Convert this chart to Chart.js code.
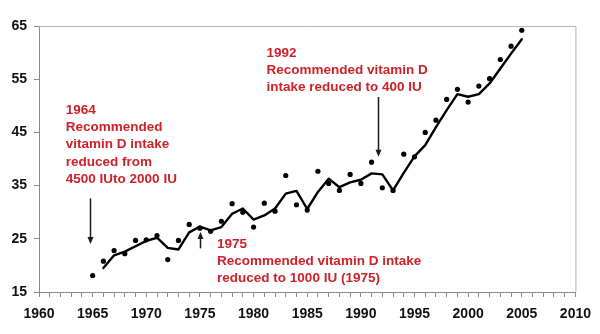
<!DOCTYPE html>
<html>
<head>
<meta charset="utf-8">
<script src="https://cdn.jsdelivr.net/npm/chart.js@4.4.1/dist/chart.umd.min.js"></script>
<style>
  body { margin: 0; background: #fff; }
  #wrap { width: 600px; height: 334px; }
</style>
</head>
<body>
<div id="wrap"><canvas id="vitDChart" width="600" height="334"></canvas></div>
<script>
// yearly observations
const years = [1965, 1966, 1967, 1968, 1969, 1970, 1971, 1972, 1973, 1974,
  1975, 1976, 1977, 1978, 1979, 1980, 1981, 1982, 1983, 1984,
  1985, 1986, 1987, 1988, 1989, 1990, 1991, 1992, 1993, 1994,
  1995, 1996, 1997, 1998, 1999, 2000, 2001, 2002, 2003, 2004, 2005];
const observed = [18.1, 20.8, 22.8, 22.2, 24.7, 24.8, 25.6, 21.1, 24.7, 27.7,
  27.0, 26.4, 28.3, 31.6, 30.0, 27.2, 31.7, 30.2, 36.9, 31.4,
  30.4, 37.7, 35.4, 34.1, 37.1, 35.4, 39.4, 34.6, 34.1, 40.9,
  40.4, 45.0, 47.3, 51.2, 53.1, 50.7, 53.7, 55.1, 58.7, 61.2, 64.2];

// smoothed trend, starts one year later
const trendYears = years.slice(1);
const trend = [19.5, 21.9, 22.6, 23.6, 24.6, 25.2, 23.3, 23.0, 26.2,
  27.3, 26.6, 27.2, 29.7, 30.7, 28.6, 29.4, 30.7, 33.5, 34.0,
  30.6, 33.8, 36.3, 34.7, 35.6, 36.1, 37.3, 37.1, 34.1, 37.4,
  40.5, 42.6, 46.0, 49.2, 52.2, 51.7, 52.2, 54.2, 57.0, 59.8, 62.5];

const xTicks = [1960, 1965, 1970, 1975, 1980, 1985, 1990, 1995, 2000, 2005, 2010];
const yTicks = [15, 25, 35, 45, 55, 65];

// notes: text block anchored at (year, value) of first line
const notes = [
  { x: 1962.5, y: 49.2, lines: ['1964', 'Recommended', 'vitamin D intake', 'reduced from', '4500 IUto 2000 IU'] },
  { x: 1976.6, y: 24.0, lines: ['1975', 'Recommended vitamin D intake', 'reduced to 1000 IU (1975)'] },
  { x: 1981.2, y: 59.9, lines: ['1992', 'Recommended vitamin D', 'intake reduced to 400 IU'] }
];
// arrows: tail value -> head value at a given year
const arrows = [
  { x: 1964.74, from: 32.6, to: 24.0 },
  { x: 1975.0, from: 23.2, to: 26.3 },
  { x: 1991.63, from: 51.65, to: 40.4 }
];

const FONT = "'Liberation Sans', Arial, sans-serif";

const frame = {
  id: 'frame',
  afterDraw(chart) {
    const { ctx, chartArea: a } = chart;
    ctx.save();
    ctx.strokeStyle = '#b4b4b4';
    ctx.lineWidth = 1;
    ctx.beginPath();
    ctx.moveTo(a.left, a.top + 0.5);
    ctx.lineTo(a.right + 0.5, a.top + 0.5);
    ctx.lineTo(a.right + 0.5, a.bottom);
    ctx.stroke();
    ctx.restore();
  }
};

const notesPlugin = {
  id: 'notes',
  afterDraw(chart) {
    const { ctx } = chart;
    const xs = chart.scales.x, ys = chart.scales.y;
    ctx.save();
    ctx.fillStyle = '#cc2229';
    ctx.font = 'bold 13.5px ' + FONT;
    ctx.textAlign = 'left';
    ctx.textBaseline = 'middle';
    notes.forEach(n => {
      const px = xs.getPixelForValue(n.x);
      const py = ys.getPixelForValue(n.y);
      n.lines.forEach((t, i) => ctx.fillText(t, px, py + i * 17.3));
    });

    ctx.strokeStyle = '#1a1a1a';
    ctx.fillStyle = '#1a1a1a';
    ctx.lineWidth = 1.5;
    arrows.forEach(ar => {
      const px = Math.round(xs.getPixelForValue(ar.x)) + 0.5;
      const y0 = ys.getPixelForValue(ar.from);
      const y1 = ys.getPixelForValue(ar.to);
      const dir = y1 > y0 ? 1 : -1;
      ctx.beginPath();
      ctx.moveTo(px, y0);
      ctx.lineTo(px, y1 - dir * 5);
      ctx.stroke();
      ctx.beginPath();
      ctx.moveTo(px, y1);
      ctx.lineTo(px - 3, y1 - dir * 7);
      ctx.lineTo(px + 3, y1 - dir * 7);
      ctx.closePath();
      ctx.fill();
    });
    ctx.restore();
  }
};

const ctx = document.getElementById('vitDChart').getContext('2d');
new Chart(ctx, {
  type: 'scatter',
  data: {
    datasets: [{
      label: 'trend',
      data: trendYears.map((y, i) => ({ x: y, y: trend[i] })),
      showLine: true,
      borderColor: '#000',
      borderWidth: 2.4,
      borderJoinStyle: 'round',
      borderCapStyle: 'round',
      pointRadius: 0,
      tension: 0,
      order: 2
    }, {
      label: 'observed',
      data: years.map((y, i) => ({ x: y, y: observed[i] })),
      pointRadius: 2.6,
      pointBackgroundColor: '#000',
      pointBorderWidth: 0,
      order: 1
    }]
  },
  options: {
    responsive: false,
    animation: false,
    layout: { padding: { left: 0, top: 26, right: 23, bottom: 0 } },
    plugins: { legend: { display: false }, tooltip: { enabled: false } },
    scales: {
      x: {
        type: 'linear',
        min: 1960,
        max: 2010,
        afterFit(scale) { scale.height = 42; },
        afterBuildTicks(scale) {
          const t = [];
          for (let v = 1960; v <= 2010; v++) t.push({ value: v });
          scale.ticks = t;
        },
        border: { color: '#8a8a8a', width: 1 },
        grid: {
          drawOnChartArea: false,
          tickLength: 5,
          tickColor: '#8a8a8a'
        },
        ticks: {
          autoSkip: false,
          maxRotation: 0,
          padding: 9,
          color: '#111',
          font: { family: FONT, size: 14, weight: 'bold' },
          callback: v => xTicks.includes(v) ? String(v) : ''
        }
      },
      y: {
        min: 15,
        max: 65,
        afterFit(scale) { scale.width = 39; },
        afterBuildTicks(scale) { scale.ticks = yTicks.map(v => ({ value: v })); },
        border: { color: '#8a8a8a', width: 1 },
        grid: {
          drawOnChartArea: false,
          tickLength: 5,
          tickColor: '#8a8a8a'
        },
        ticks: {
          padding: 7,
          color: '#111',
          font: { family: FONT, size: 14, weight: 'bold' }
        }
      }
    }
  },
  plugins: [frame, notesPlugin]
});
</script>
</body>
</html>
